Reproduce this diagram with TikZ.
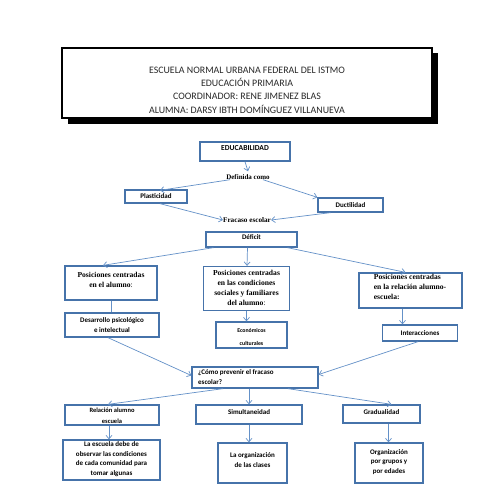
\documentclass[tikz,border=0pt]{standalone}
\usepackage{fontspec}
\setmainfont{Liberation Serif}
\newfontfamily\calib{Carlito}
\usetikzlibrary{arrows.meta}
\definecolor{bxblue}{RGB}{70,115,170}
\definecolor{lnblue}{RGB}{100,145,200}
\definecolor{hdrgray}{RGB}{40,40,40}
\tikzset{
  bx/.style={draw=bxblue, line width=1.3pt, fill=white, inner sep=0pt, align=center,
    font=\calib\bfseries\fontsize{7}{9.5}\selectfont},
  txt/.style={inner sep=0pt, align=center, font=\calib\bfseries\fontsize{7}{9.5}\selectfont},
  sertxt/.style={inner sep=0pt, align=center, font=\bfseries\fontsize{7.6}{9.8}\selectfont},
  conn/.style={draw=lnblue, line width=0.7pt, -{Straight Barb[length=3.5pt,width=6pt]}},
  plain/.style={draw=lnblue, line width=0.7pt}
}
\begin{document}
\begin{tikzpicture}[x=1pt,y=-1pt]
\useasboundingbox[fill=white] (0,0) rectangle (495,495);
% header
\node[fill=black, minimum width=370, minimum height=70, inner sep=0pt] (hdrshadow) at (252.5,88.5) {};
\node[draw=black, line width=1.8pt, fill=white, minimum width=370, minimum height=70, inner sep=0pt] (hdr) at (247,83) {};
\node[inner sep=0pt, align=center, text=hdrgray, font=\calib\fontsize{9.9}{13.3}\selectfont] (hdrtext) at (247,90)
  {ESCUELA NORMAL URBANA FEDERAL DEL ISTMO\\EDUCACIÓN PRIMARIA\\COORDINADOR: RENE JIMENEZ BLAS\\ALUMNA: DARSY IBTH DOMÍNGUEZ VILLANUEVA};
% top part
\node[bx, minimum width=90, minimum height=19] (educ) at (245,151.5) {};
\node[txt, font=\calib\bfseries\fontsize{7.6}{9.5}\selectfont] (educt) at (245,148.5) {EDUCABILIDAD};
\node[sertxt, font=\bfseries\fontsize{7}{9}\selectfont] (defin) at (248,177) {Definida como};
\node[bx, minimum width=62, minimum height=13] (plast) at (156,196.5) {Plasticidad};
\node[bx, minimum width=65, minimum height=14] (duct) at (350.5,205) {Ductilidad};
\node[sertxt, font=\bfseries\fontsize{7.2}{9}\selectfont] (fracaso) at (247,220) {Fracaso escolar};
\node[bx, minimum width=91, minimum height=15] (defic) at (251.5,239.5) {};
\node[txt] (defict) at (251.5,237.5) {Déficit};
% posiciones
\node[bx, minimum width=92, minimum height=34] (posL) at (111,283) {};
\node[sertxt] at (111,280) {Posiciones centradas\\en el alumno\textmd{:}};
\node[bx, minimum width=86, minimum height=44] (posM) at (246.5,288.5) {};
\node[sertxt] at (246.5,288) {Posiciones centradas\\en las condiciones\\sociales y familiares\\del alumno\textmd{:}};
\node[bx, minimum width=103, minimum height=35] (posR) at (410.5,290.5) {};
\node[sertxt, align=left] at (410,287) {Posiciones centradas\\en la relación alumno-\\escuela:};
% second row
\node[bx, minimum width=94, minimum height=24] (desa) at (112,325) {Desarrollo psicológico\\e intelectual};
\node[bx, minimum width=71, minimum height=26] (econ) at (251.5,335) {};
\node[txt, font=\calib\bfseries\fontsize{5.8}{13}\selectfont] at (251.5,336.5) {Económicos\\culturales};
\node[bx, minimum width=75, minimum height=16] (inter) at (420,333) {Interacciones};
% como
\node[bx, minimum width=126, minimum height=21] (como) at (255,377.5) {};
\node[txt, align=left, anchor=north west] at (198,369.5) {¿Cómo prevenir el fracaso\\escolar?};
% third row
\node[bx, minimum width=94, minimum height=20] (rel) at (112,415) {};
\node[txt, font=\calib\bfseries\fontsize{6.5}{11}\selectfont] at (112,416) {Relación alumno\\escuela};
\node[bx, minimum width=106, minimum height=19] (simu) at (249,414.5) {};
\node[txt] at (249,412) {Simultaneidad};
\node[bx, minimum width=77, minimum height=18] (grad) at (381.5,414) {};
\node[txt] at (381.5,412) {Gradualidad};
% fourth row
\node[bx, minimum width=97, minimum height=40] (escu) at (111.5,460) {};
\node[txt] at (111.5,459) {La escuela debe de\\observar las condiciones\\de cada comunidad para\\tomar algunas};
\node[bx, minimum width=69, minimum height=40] (orga) at (252.5,463) {};
\node[txt] at (252.5,460) {La organización\\de las clases};
\node[bx, minimum width=68, minimum height=40] (grup) at (389,463) {};
\node[txt] at (389,462) {Organización\\por grupos y\\por edades};
% connectors
\draw[conn] (educ.south) -- ([yshift=3]defin.north);
\draw[conn] ([xshift=-18]defin.south) -- ([xshift=4,yshift=-1]plast.north);
\draw[conn] ([xshift=15]defin.south) -- (duct.north west);
\draw[conn] ([xshift=4]plast.south) -- (fracaso.west);
\draw[conn] ([xshift=-20]duct.south) -- (fracaso.east);
\draw[conn] ([xshift=-38]defic.south) -- ([xshift=-8]posL.north);
\draw[conn] ([xshift=-4]defic.south) -- ([xshift=0.5]posM.north);
\draw[conn] ([xshift=36]defic.south) -- ([xshift=-5]posR.north);
\draw[plain] (posL.south) -- (desa.north -| posL.south);
\draw[conn] (posM.south) -- (econ.north -| posM.south);
\draw[conn] ([xshift=-8]posR.south) -- ([xshift=-17.5]inter.north);
\draw[conn] ([xshift=-4]desa.south) -- ([yshift=2]como.west);
\draw[conn] ([xshift=-2]inter.south) -- ([yshift=3]como.east);
\draw[conn] ([xshift=-32]como.south) -- ([xshift=-4]rel.north);
\draw[conn] ([xshift=-6]como.south) -- (simu.north);
\draw[conn] ([xshift=33]como.south) -- ([xshift=10]grad.north);
\draw[conn] ([xshift=-3]rel.south) -- ([xshift=-3]escu.north -| rel.south);
\draw[conn] (simu.south) -- (orga.north -| simu.south);
\draw[conn] ([xshift=7]grad.south) -- ([xshift=7]grup.north -| grad.south);
\end{tikzpicture}
\end{document}
